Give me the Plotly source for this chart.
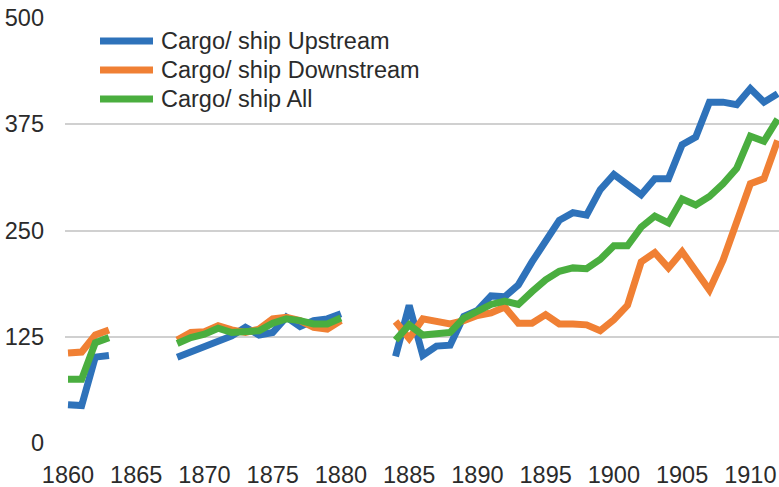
import plotly.graph_objects as go

years = list(range(1860, 1913))

upstream = [45, 44, 101, 103,
            None, None, None, None,
            101, 107, 115, 121, 126, 136, 127, 130, 148, 137, 144, 146, 152,
            None, None, None,
            102, 162, 103, 114, 115, 149, 156, 173, 172, 186, 213, 239, 262, 271, 268,
            298, 316, 304, 292, 311, 311, 351, 360, 401, 401, 398, 417, 401, 411]

downstream = [106, 107, 127, 133,
              None, None, None, None,
              121, 130, 131, 138, 133, 130, 134, 146, 148, 144, 136, 134, 144,
              None, None, None,
              143, 123, 146, 142, 140, 144, 150, 153, 160, 141, 141, 151, 140, 140, 139,
              132, 145, 162, 213, 224, 206, 225, 204, 180, 215, 258, 305, 311, 356]

all_ships = [75, 75, 118, 124,
             None, None, None, None,
             117, 124, 128, 135, 130, 131, 132, 141, 146, 144, 140, 140, 147,
             None, None, None,
             121, 139, 127, 129, 130, 147, 154, 163, 167, 163, 178, 192, 202, 206, 205,
             216, 232, 232, 254, 267, 259, 287, 280, 290, 305, 323, 361, 355, 381]

series_names = ["Cargo/ ship Upstream", "Cargo/ ship Downstream", "Cargo/ ship All"]
series_values = [upstream, downstream, all_ships]
colors = ["#2E72BA", "#F08034", "#4AAE3F"]

x_ticks = list(range(1860, 1911, 5))
y_ticks = [0, 125, 250, 375, 500]

W, H = 779, 487
ML, MR, MT, MB = 65, 0, 18, 44
PW, PH = W - ML - MR, H - MT - MB

def px_x(p):
    return (p - ML) / PW

def px_y(p):
    return (H - MB - p) / PH

font_family = "Liberation Sans, Arial, sans-serif"
text_color = "#2b2b2b"

fig = go.Figure()
for name, vals, col in zip(series_names, series_values, colors):
    fig.add_trace(go.Scatter(
        x=years, y=vals, name=name, mode="lines",
        line=dict(color=col, width=7),
        connectgaps=False, showlegend=False,
    ))

# manual legend (long line samples like the original)
legend_rows = [41, 70, 99]
for name, col, yy in zip(series_names, colors, legend_rows):
    fig.add_shape(type="line", xref="paper", yref="paper",
                  x0=px_x(100), x1=px_x(153), y0=px_y(yy), y1=px_y(yy),
                  line=dict(color=col, width=7))
    fig.add_annotation(xref="paper", yref="paper", x=px_x(159), y=px_y(yy),
                       text=name, showarrow=False, xanchor="left", yanchor="middle",
                       font=dict(size=23.5, color=text_color, family=font_family))

fig.update_layout(
    width=W, height=H,
    margin=dict(l=ML, r=MR, t=MT, b=MB),
    paper_bgcolor="white", plot_bgcolor="white",
    font=dict(family=font_family, size=23.5, color=text_color),
    showlegend=False,
)
fig.update_xaxes(
    range=[1859.78, 1912.1], tickvals=x_ticks,
    ticktext=[str(t) for t in x_ticks],
    showgrid=False, zeroline=False, showline=False,
    ticks="", ticklabelstandoff=15,
)
fig.update_yaxes(
    range=[0, 500], tickvals=y_ticks,
    ticktext=[str(t) for t in y_ticks],
    showgrid=True, gridcolor="#d0d0d0", gridwidth=2,
    zeroline=False, showline=False, ticks="", ticklabelstandoff=20,
)

fig.write_html(
    "out.html",
    config={"displayModeBar": False},
    post_script="document.body.style.margin='0';document.body.style.overflow='hidden';",
)
